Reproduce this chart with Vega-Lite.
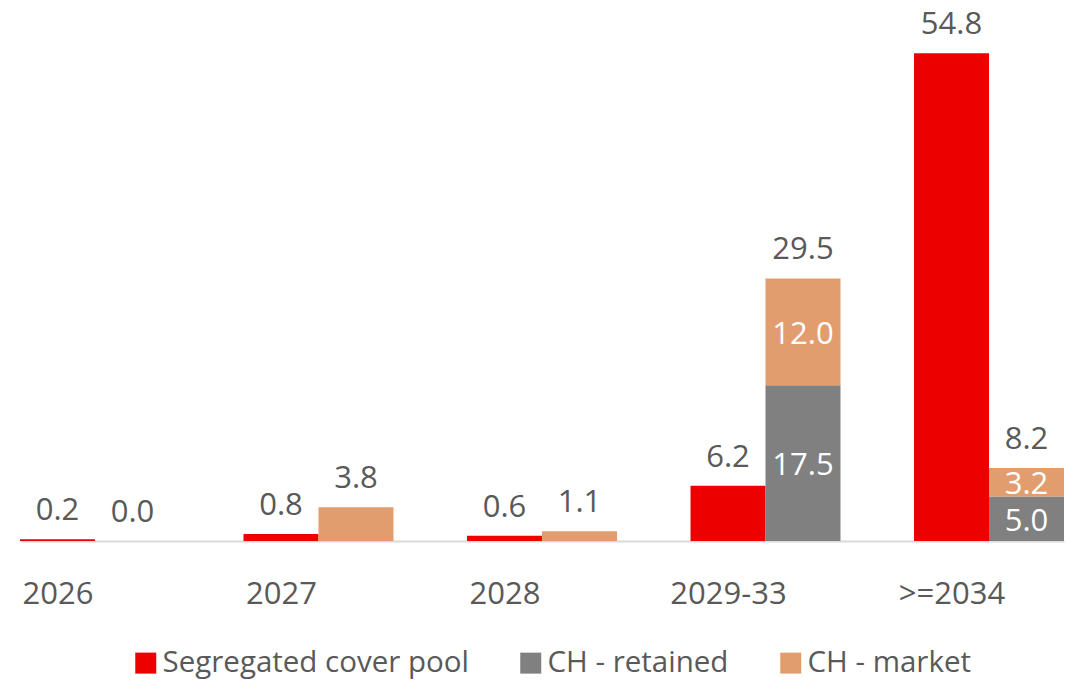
{
  "$schema": "https://vega.github.io/schema/vega-lite/v6.json",
  "autosize": "none",
  "width": 1044,
  "height": 534,
  "padding": {"left": 20, "top": 7, "right": 7, "bottom": 139},
  "background": "white",
  "config": {
    "view": {"stroke": null},
    "font": "Open Sans",
    "text": {"font": "Open Sans", "fontSize": 31, "color": "#595959"}
  },
  "data": {
    "values": [
      {"category": "2026", "bar": "pool", "series": "Segregated cover pool", "value": 0.2},
      {"category": "2026", "bar": "CH", "series": "CH - retained", "value": 0.0},
      {"category": "2026", "bar": "CH", "series": "CH - market", "value": 0.0},
      {"category": "2027", "bar": "pool", "series": "Segregated cover pool", "value": 0.8},
      {"category": "2027", "bar": "CH", "series": "CH - retained", "value": 0.0},
      {"category": "2027", "bar": "CH", "series": "CH - market", "value": 3.8},
      {"category": "2028", "bar": "pool", "series": "Segregated cover pool", "value": 0.6},
      {"category": "2028", "bar": "CH", "series": "CH - retained", "value": 0.0},
      {"category": "2028", "bar": "CH", "series": "CH - market", "value": 1.1},
      {"category": "2029-33", "bar": "pool", "series": "Segregated cover pool", "value": 6.2},
      {"category": "2029-33", "bar": "CH", "series": "CH - retained", "value": 17.5},
      {"category": "2029-33", "bar": "CH", "series": "CH - market", "value": 12.0},
      {"category": ">=2034", "bar": "pool", "series": "Segregated cover pool", "value": 54.8},
      {"category": ">=2034", "bar": "CH", "series": "CH - retained", "value": 5.0},
      {"category": ">=2034", "bar": "CH", "series": "CH - market", "value": 3.2}
    ]
  },
  "encoding": {
    "x": {
      "field": "category",
      "type": "nominal",
      "sort": ["2026", "2027", "2028", "2029-33", ">=2034"],
      "scale": {"paddingInner": 0.329, "paddingOuter": 0},
      "axis": {
        "title": null,
        "labelAngle": 0,
        "labelFont": "Open Sans",
        "labelFontSize": 31,
        "labelColor": "#595959",
        "labelOffset": -37,
        "labelPadding": 38,
        "ticks": false,
        "domainColor": "#d9d9d9",
        "domainWidth": 2,
        "grid": false
      }
    },
    "xOffset": {
      "field": "bar",
      "type": "nominal",
      "sort": ["pool", "CH"],
      "scale": {"domain": ["pool", "CH"], "paddingInner": 0, "paddingOuter": 0}
    }
  },
  "layer": [
    {
      "mark": {"type": "bar"},
      "encoding": {
        "y": {
          "field": "value",
          "type": "quantitative",
          "stack": "zero",
          "scale": {"domain": [0, 60], "nice": false},
          "axis": null
        },
        "color": {
          "field": "series",
          "type": "nominal",
          "scale": {
            "domain": ["Segregated cover pool", "CH - retained", "CH - market"],
            "range": ["#EC0000", "#808080", "#E29D6F"]
          },
          "legend": {
            "title": null,
            "orient": "none",
            "direction": "horizontal",
            "legendX": 111,
            "legendY": 641,
            "padding": 0,
            "symbolType": "square",
            "symbolSize": 441,
            "symbolStrokeWidth": 0,
            "labelFont": "Open Sans",
            "labelFontSize": 29.5,
            "labelColor": "#595959",
            "labelOffset": 2,
            "columnPadding": 47,
            "labelLimit": 400
          }
        },
        "order": {"field": "series", "sort": "descending"}
      }
    },
    {
      "transform": [
        {"aggregate": [{"op": "sum", "field": "value", "as": "total"}], "groupby": ["category", "bar"]}
      ],
      "mark": {"type": "text", "baseline": "alphabetic", "dy": -19},
      "encoding": {
        "y": {"field": "total", "type": "quantitative"},
        "text": {"field": "total", "type": "quantitative", "format": ".1f"}
      }
    },
    {
      "transform": [
        {"filter": "datum.bar == 'CH' && (datum.category == '2029-33' || datum.category == '>=2034')"},
        {"stack": "value", "groupby": ["category", "bar"], "sort": [{"field": "series", "order": "descending"}], "as": ["v0", "v1"]},
        {"fold": ["v0", "v1"], "as": ["k", "pos"]},
        {"aggregate": [{"op": "mean", "field": "pos", "as": "mid"}, {"op": "max", "field": "value", "as": "val"}], "groupby": ["category", "bar", "series"]}
      ],
      "mark": {"type": "text", "baseline": "middle", "dy": 3, "color": "white"},
      "encoding": {
        "y": {"field": "mid", "type": "quantitative"},
        "text": {"field": "val", "type": "quantitative", "format": ".1f"}
      }
    }
  ]
}
